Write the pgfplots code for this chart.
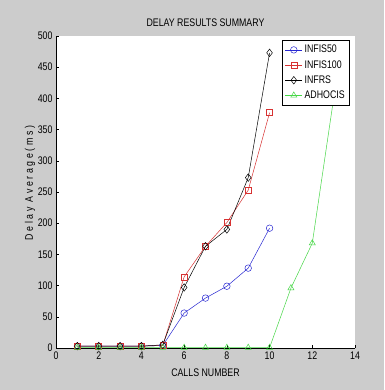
\documentclass[border=0pt]{standalone}
\usepackage{fontspec}
\setmainfont{Liberation Sans}[FakeStretch=0.8]
\newfontfamily\ylabfont{Liberation Sans}[FakeStretch=0.8,LetterSpace=24]
\usepackage{pgfplots}
\pgfplotsset{compat=1.18}
\definecolor{bg}{RGB}{204,204,204}
\definecolor{mblue}{RGB}{40,40,210}
\definecolor{mred}{RGB}{215,50,50}
\definecolor{mgreen}{RGB}{70,215,70}
\begin{document}
\begin{tikzpicture}
\fill[bg] (-56pt,-42pt) rectangle (328pt,348pt);
\begin{axis}[
  at={(0pt,0pt)}, anchor=south west,
  scale only axis, width=299pt, height=312pt,
  xmin=0, xmax=14, ymin=0, ymax=500,
  xtick={0,2,...,14}, ytick={0,50,...,500},
  axis lines=left,
  axis line style={-, black, line width=0.6pt},
  tick align=inside, major tick length=3pt,
  tick style={black, line width=0.5pt},
  axis background/.style={fill=white},
  font=\fontsize{11}{13}\selectfont,
  tick label style={font=\fontsize{11}{13}\selectfont},
  /pgf/number format/assume math mode=true,
  title={DELAY RESULTS SUMMARY},
  title style={at={(axis description cs:0.5,1)}, anchor=base, yshift=3pt, font=\fontsize{11}{13}\selectfont},
  xlabel={CALLS NUMBER},
  xlabel style={at={(axis description cs:0.5,0)}, anchor=center, yshift=-25pt},
  ylabel={\ylabfont Delay Average(ms)},
  ylabel style={at={(axis description cs:0,0.5)}, anchor=center, yshift=26pt, xshift=9pt},
  legend style={at={(rel axis cs:0.983,0.987)}, anchor=north east, draw=black, fill=white,
    line width=0.5pt, font=\fontsize{11}{13}\selectfont, inner sep=3pt, row sep=2pt},
  legend cell align=left,
  every axis plot/.append style={line width=0.5pt},
]
\addplot[mblue, mark=o, mark size=3.3pt] coordinates {
 (1,3) (2,3) (3,3) (4,3) (5,4) (6,56) (7,80) (8,99) (9,128) (10,192)};
\addlegendentry{INFIS50}
\addplot[mred, mark=square, mark size=3pt] coordinates {
 (1,3) (2,3) (3,3) (4,3) (5,4) (6,114) (7,163) (8,201) (9,253) (10,377)};
\addlegendentry{INFIS100}
\addplot[black, mark=diamond, mark size=3.8pt] coordinates {
 (1,3) (2,3) (3,3) (4,3) (5,5) (6,97) (7,163) (8,190) (9,273) (10,473)};
\addlegendentry{INFRS}
\addplot[mgreen, mark=triangle, mark size=3.5pt] coordinates {
 (1,0.5) (2,0.5) (3,0.5) (4,0.5) (5,0.5) (6,0.5) (7,0.5) (8,0.5) (9,0.5) (10,0.5) (11,96) (12,168) (13,400)};
\addlegendentry{ADHOCIS}
\end{axis}
\end{tikzpicture}
\end{document}
